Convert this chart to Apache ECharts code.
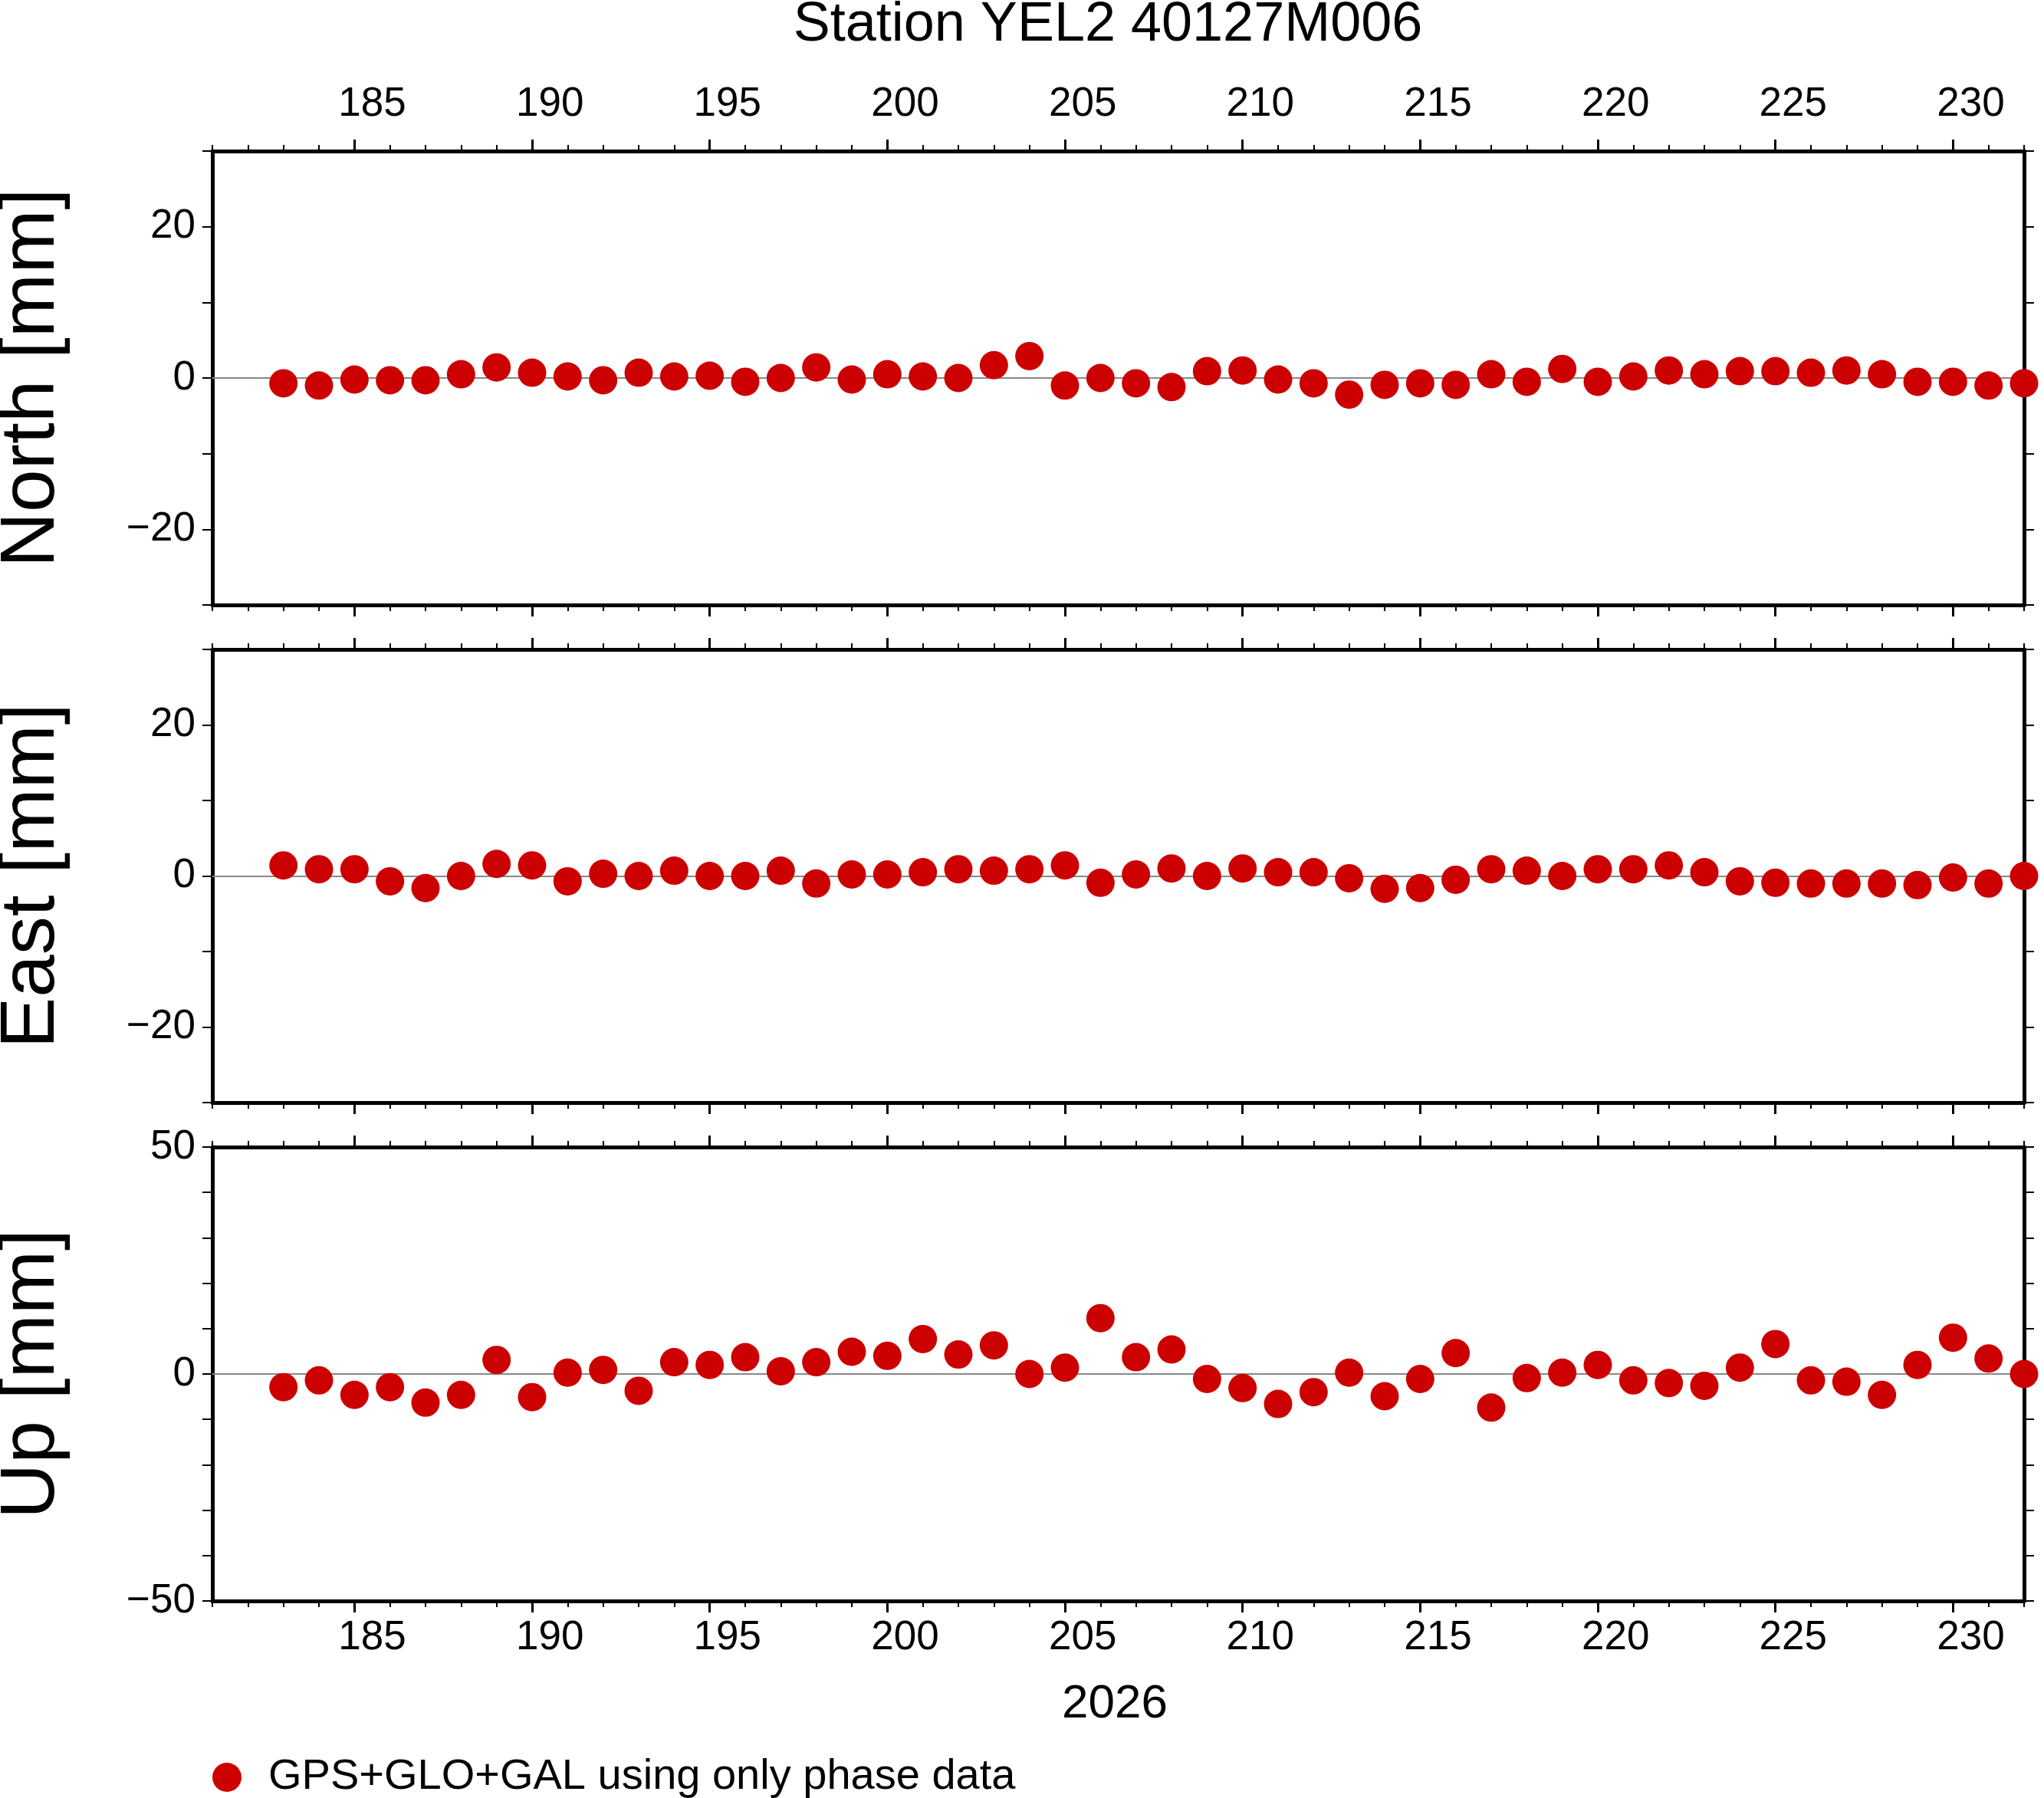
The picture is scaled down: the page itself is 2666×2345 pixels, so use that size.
<!DOCTYPE html>
<html><head><meta charset="utf-8">
<script src="https://cdn.jsdelivr.net/npm/echarts@6/dist/echarts.min.js"></script>
<style>html,body{margin:0;padding:0;background:#fff}#c{width:2666px;height:2345px}</style>
</head><body><div id="c"></div>
<script>
const days = [];
for (let d = 183; d <= 232; d++) days.push(d);
const north = [-0.7,-1,-0.2,-0.3,-0.3,0.5,1.4,0.7,0.2,-0.3,0.7,0.2,0.3,-0.5,0,1.4,-0.2,0.5,0.2,0,1.7,2.9,-1,0,-0.7,-1.2,0.9,1,-0.2,-0.7,-2.2,-0.9,-0.7,-0.9,0.5,-0.5,1.2,-0.5,0.2,1,0.5,0.9,0.9,0.7,1,0.5,-0.5,-0.5,-1,-0.7];
const east = [1.4,0.9,0.9,-0.7,-1.6,0,1.6,1.4,-0.7,0.3,0,0.7,0,0,0.7,-1,0.2,0.2,0.5,0.9,0.7,0.9,1.4,-0.9,0.2,1,0,1,0.5,0.5,-0.3,-1.7,-1.6,-0.5,0.9,0.7,0,0.9,0.9,1.4,0.5,-0.7,-0.9,-1,-1,-1,-1.2,-0.2,-1,0];
const up = [-2.9,-1.4,-4.6,-2.9,-6.3,-4.6,3.1,-5.1,0.3,0.9,-3.7,2.6,2,3.7,0.6,2.6,4.9,4,7.7,4.3,6.3,0,1.4,12.3,3.7,5.4,-1.1,-3.1,-6.6,-4,0.3,-4.9,-1.1,4.6,-7.4,-0.9,0.3,2,-1.4,-2,-2.6,1.4,6.6,-1.4,-1.7,-4.6,2,8,3.4,0];
const majorTicks = [185,190,195,200,205,210,215,220,225,230];
const labelPos = majorTicks.map(v => v + 0.5);
const panels = [
  {name:'North [mm]', data:north, min:-30, max:30, lab:20, top:197, h:592},
  {name:'East [mm]', data:east, min:-30, max:30, lab:20, top:847, h:591},
  {name:'Up [mm]', data:up, min:-50, max:50, lab:50, top:1496, h:592}
];
const FONT = 'Liberation Sans';
const grid=[], xAxis=[], yAxis=[], series=[];
panels.forEach((p,i)=>{
  grid.push({left:277, width:2363, top:p.top, height:p.h, containLabel:false, outerBoundsMode:'none'});
  const base = {gridIndex:i, type:'value', min:181, max:232, splitLine:{show:false}};
  xAxis.push(Object.assign({}, base, {position:'bottom', interval:1,
    axisLine:{show:true, onZero:false, lineStyle:{color:'#000', width:5}},
    axisTick:{show:true, length:8, lineStyle:{color:'#000', width:2}},
    axisLabel:{show:false}}));
  const showBottomLab = i===2, showTopLab = i===0;
  xAxis.push(Object.assign({}, base, {position:'bottom',
    axisLine:{show:false, onZero:false},
    axisTick:{show:true, length:15, customValues:majorTicks, lineStyle:{color:'#000', width:3}},
    axisLabel:{show:showBottomLab, customValues:labelPos, formatter:v=>Math.floor(v), fontSize:53, fontFamily:FONT, color:'#000', margin:22}}));
  xAxis.push(Object.assign({}, base, {position:'top', interval:1,
    axisLine:{show:true, onZero:false, lineStyle:{color:'#000', width:5}},
    axisTick:{show:true, length:8, lineStyle:{color:'#000', width:2}},
    axisLabel:{show:false}}));
  xAxis.push(Object.assign({}, base, {position:'top',
    axisLine:{show:false, onZero:false},
    axisTick:{show:true, length:15, customValues:majorTicks, lineStyle:{color:'#000', width:3}},
    axisLabel:{show:showTopLab, customValues:labelPos, formatter:v=>Math.floor(v), fontSize:53, fontFamily:FONT, color:'#000', margin:34}}));
  const ybase = {gridIndex:i, type:'value', min:p.min, max:p.max, interval:10, splitLine:{show:false},
    axisLine:{show:true, onZero:false, lineStyle:{color:'#000', width:5}},
    axisTick:{show:true, length:13, lineStyle:{color:'#000', width:2}}};
  yAxis.push(Object.assign({}, ybase, {position:'left', name:p.name, nameLocation:'middle', nameGap:185,
    nameTextStyle:{fontSize:100, fontFamily:FONT, color:'#000'},
    axisLabel:{fontSize:53, fontFamily:FONT, color:'#000', margin:22,
      formatter:v=> (v % p.lab === 0) ? (v<0 ? '\u2212'+(-v) : String(v)) : ''}}));
  yAxis.push(Object.assign({}, ybase, {position:'right', axisLabel:{show:false}}));
  series.push({name:'GPS+GLO+GAL using only phase data', type:'scatter', xAxisIndex:i*4, yAxisIndex:i*2,
    data:days.map((d,k)=>[d,p.data[k]]), symbolSize:37, itemStyle:{color:'#cc0000', opacity:1}, z:5,
    markLine:{silent:true, symbol:'none', label:{show:false}, lineStyle:{color:'#888', width:2, type:'solid'}, data:[{yAxis:0}]}});
});
const chart = echarts.init(document.getElementById('c'));
chart.setOption({
  animation:false, backgroundColor:'#fff',
  title:{text:'Station YEL2 40127M006', left:1440, top:-8,
    textAlign:'center', textStyle:{fontSize:72, fontWeight:'normal', fontFamily:FONT, color:'#000'}},
  grid, xAxis, yAxis, series,
  legend:{data:['GPS+GLO+GAL using only phase data'], left:272, top:2285, icon:'circle', itemWidth:38, itemHeight:38, itemGap:20,
    textStyle:{fontSize:56, fontFamily:FONT, color:'#000', padding:[0,0,0,30]}},
  graphic:[{type:'text', left:1385, top:2192, style:{text:'2026', fontSize:62, fontFamily:FONT, fill:'#000'}}]
});
</script></body></html>
